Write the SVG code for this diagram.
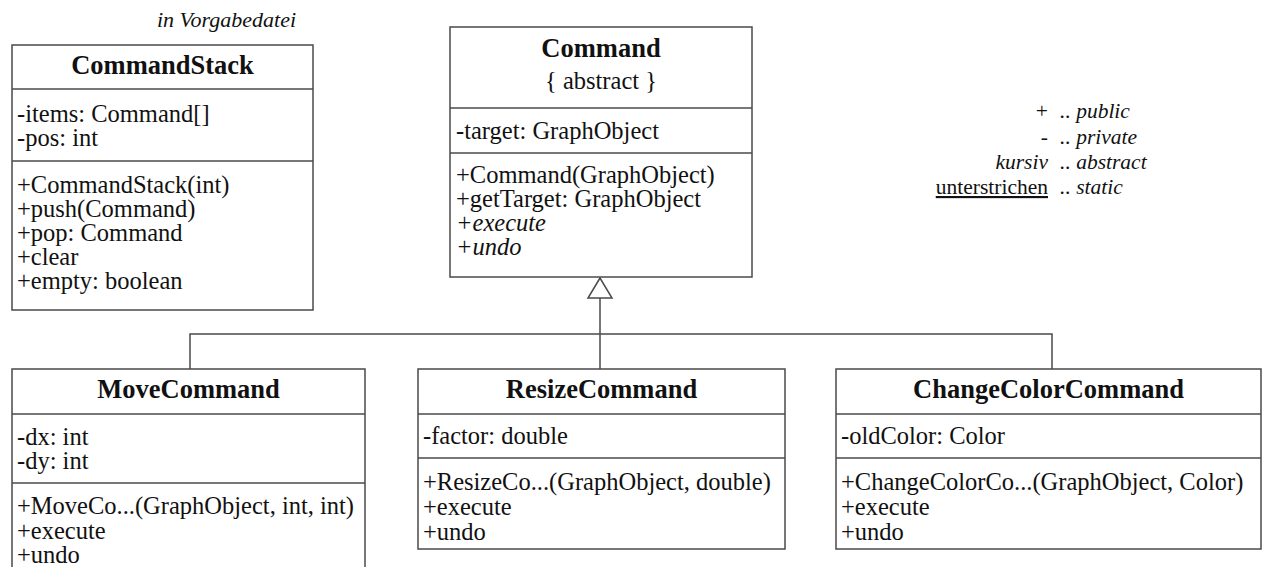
<svg xmlns="http://www.w3.org/2000/svg" width="1262" height="567" viewBox="0 0 1262 567">
<style>
.box{fill:#fff;stroke:#4a4a4a;stroke-width:1.5}
.div{stroke:#4a4a4a;stroke-width:1.5}
.con{fill:none;stroke:#4a4a4a;stroke-width:1.5}
.tri{fill:#fff;stroke:#4a4a4a;stroke-width:1.5}
text{font-family:"Liberation Serif","Times New Roman",Times,"DejaVu Serif",serif;font-weight:400;fill:#111}
.t{font-size:26.5px;font-weight:700;text-anchor:middle}
.s{font-size:24.5px;text-anchor:middle}
.m{font-size:24.5px}
.i{font-style:italic}
.n{font-size:21.5px}
.nr{font-size:21.5px;text-anchor:end}
</style>
<rect width="1262" height="567" fill="#fff"/>
<text class="n i" x="157" y="27" style="font-size:22px">in Vorgabedatei</text>
<g id="legend">
<text class="nr" x="1048" y="118">+</text>
<text class="nr" x="1048" y="143.5">-</text>
<text class="nr i" x="1048" y="169">kursiv</text>
<text class="nr" x="1048" y="194" text-decoration="underline">unterstrichen</text>
<text class="n i" x="1060" y="118">.. public</text>
<text class="n i" x="1060" y="143.5">.. private</text>
<text class="n i" x="1060" y="169">.. abstract</text>
<text class="n i" x="1060" y="194">.. static</text>
</g>
<g id="connectors">
<polyline class="con" points="190,369 190,334 1052,334 1052,369"/>
<line class="con" x1="600" y1="298" x2="600" y2="369"/>
<polygon class="tri" points="600,278 588,298 612,298"/>
</g>
<g id="CommandStack">
<rect class="box" x="12" y="45" width="301" height="265"/>
<line class="div" x1="12" y1="89" x2="313" y2="89"/>
<line class="div" x1="12" y1="161" x2="313" y2="161"/>
<text class="t" x="162.5" y="74">CommandStack</text>
<text class="m" x="17" y="122">-items: Command[]</text>
<text class="m" x="17" y="146">-pos: int</text>
<text class="m" x="17" y="192.5">+CommandStack(int)</text>
<text class="m" x="17" y="216.5">+push(Command)</text>
<text class="m" x="17" y="240.5">+pop: Command</text>
<text class="m" x="17" y="264.5">+clear</text>
<text class="m" x="17" y="288.5">+empty: boolean</text>
</g>
<g id="Command">
<rect class="box" x="450" y="27" width="302" height="250"/>
<line class="div" x1="450" y1="108" x2="752" y2="108"/>
<line class="div" x1="450" y1="153" x2="752" y2="153"/>
<text class="t" x="601" y="57">Command</text>
<text class="s" x="601" y="89">{ abstract }</text>
<text class="m" x="456" y="138.5">-target: GraphObject</text>
<text class="m" x="456" y="183">+Command(GraphObject)</text>
<text class="m" x="456" y="207">+getTarget: GraphObject</text>
<text class="m i" x="456" y="231">+execute</text>
<text class="m i" x="456" y="255">+undo</text>
</g>
<g id="MoveCommand">
<rect class="box" x="12" y="369" width="353" height="220"/>
<line class="div" x1="12" y1="414" x2="365" y2="414"/>
<line class="div" x1="12" y1="483" x2="365" y2="483"/>
<text class="t" x="188.5" y="398">MoveCommand</text>
<text class="m" x="17" y="445">-dx: int</text>
<text class="m" x="17" y="469">-dy: int</text>
<text class="m" x="17" y="514">+MoveCo...(GraphObject, int, int)</text>
<text class="m" x="17" y="538.5">+execute</text>
<text class="m" x="17" y="563">+undo</text>
</g>
<g id="ResizeCommand">
<rect class="box" x="418" y="369" width="367" height="180"/>
<line class="div" x1="418" y1="414" x2="785" y2="414"/>
<line class="div" x1="418" y1="458" x2="785" y2="458"/>
<text class="t" x="601.5" y="398">ResizeCommand</text>
<text class="m" x="423" y="443.5">-factor: double</text>
<text class="m" x="423" y="490">+ResizeCo...(GraphObject, double)</text>
<text class="m" x="423" y="515">+execute</text>
<text class="m" x="423" y="540">+undo</text>
</g>
<g id="ChangeColorCommand">
<rect class="box" x="836" y="369" width="425" height="180"/>
<line class="div" x1="836" y1="414" x2="1261" y2="414"/>
<line class="div" x1="836" y1="458" x2="1261" y2="458"/>
<text class="t" x="1048.5" y="398">ChangeColorCommand</text>
<text class="m" x="841" y="443.5">-oldColor: Color</text>
<text class="m" x="841" y="490">+ChangeColorCo...(GraphObject, Color)</text>
<text class="m" x="841" y="515">+execute</text>
<text class="m" x="841" y="540">+undo</text>
</g>
</svg>
